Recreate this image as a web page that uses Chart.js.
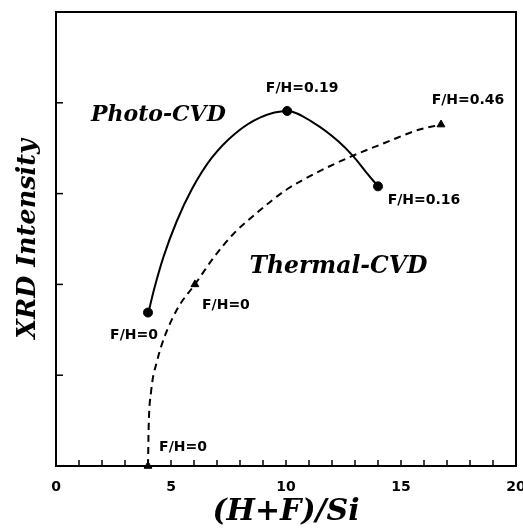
<!DOCTYPE html>
<html><head><meta charset="utf-8">
<script src="https://cdn.jsdelivr.net/npm/chart.js@4"></script>
<style>html,body{margin:0;padding:0;background:#fff;} canvas{display:block;}</style>
</head><body>
<canvas id="c" width="523" height="530"></canvas>
<script>
// ---- data ----
const xTickLabels = ['0', '5', '10', '15', '20'];

// Photo-CVD measured points
const photoX = [4.0, 10.05, 14.0];
const photoY = [1.69, 3.91, 3.08];
const photoLabels = ['F/H=0', 'F/H=0.19', 'F/H=0.16'];
// Photo-CVD drawn curve
const photoCurveX = [4.02, 4.26, 4.67, 5.24, 5.91, 6.76, 7.78, 8.89, 10.06, 11.2, 12.26, 12.93, 13.47, 14.0];
const photoCurveY = [1.69, 1.94, 2.30, 2.69, 3.05, 3.39, 3.66, 3.84, 3.91, 3.78, 3.58, 3.41, 3.24, 3.08];

// Thermal-CVD measured points
const thermalX = [4.0, 6.04, 16.74];
const thermalY = [0, 2.0, 3.76];
const thermalLabels = ['F/H=0', 'F/H=0', 'F/H=0.46'];
// Thermal-CVD drawn curve
const thermalCurveX = [4.0, 4.03, 4.13, 4.41, 4.73, 5.32, 6.04, 6.84, 7.69, 8.84, 10.0, 11.33, 12.84, 14.31, 15.73, 16.74];
const thermalCurveY = [0, 0.44, 0.81, 1.17, 1.43, 1.75, 2.0, 2.29, 2.55, 2.81, 3.04, 3.23, 3.41, 3.56, 3.70, 3.76];

const seriesNames = ['Photo-CVD', 'Thermal-CVD'];

// ---- styling / placement (not data) ----
const style = {
  pointLabelFont: 'bold 14px "DejaVu Sans"',
  photoLabelOffsets: [[-14, 23], [15, -23], [46, 14]],
  thermalLabelOffsets: [[35, -19], [31, 21], [27, -24]],
  nameFonts: ['italic bold 22px "DejaVu Serif"', 'italic bold 23.5px "DejaVu Serif"'],
  nameAnchors: [{x: 4.45, y: 3.86}, {x: 12.28, y: 2.19}]
};

const pts = (xs, ys) => xs.map((x, i) => ({x: x, y: ys[i]}));

const decor = {
  id: 'decor',
  afterDatasetsDraw(chart) {
    const {ctx, chartArea: a, scales: {x, y}} = chart;
    ctx.save();
    ctx.strokeStyle = '#000';
    ctx.lineWidth = 2;
    ctx.strokeRect(a.left, a.top, a.right - a.left, a.bottom - a.top);
    ctx.lineWidth = 1.5;
    x.ticks.forEach(t => {
      if (t.value <= x.min || t.value >= x.max) return;
      const px = x.getPixelForValue(t.value);
      ctx.beginPath(); ctx.moveTo(px, a.bottom); ctx.lineTo(px, a.bottom - 6); ctx.stroke();
    });
    y.ticks.forEach(t => {
      if (t.value <= y.min || t.value >= y.max) return;
      const py = y.getPixelForValue(t.value);
      ctx.beginPath(); ctx.moveTo(a.left, py); ctx.lineTo(a.left + 7, py); ctx.stroke();
    });
    ctx.fillStyle = '#000';
    ctx.textAlign = 'center';
    ctx.textBaseline = 'middle';
    ctx.font = style.pointLabelFont;
    const drawLabels = (xs, ys, labels, offs) => {
      labels.forEach((s, i) => {
        const px = x.getPixelForValue(xs[i]) + offs[i][0];
        const py = y.getPixelForValue(ys[i]) + offs[i][1];
        ctx.fillText(s, px, py);
      });
    };
    drawLabels(photoX, photoY, photoLabels, style.photoLabelOffsets);
    drawLabels(thermalX, thermalY, thermalLabels, style.thermalLabelOffsets);
    seriesNames.forEach((s, i) => {
      const an = style.nameAnchors[i];
      ctx.font = style.nameFonts[i];
      ctx.fillText(s, x.getPixelForValue(an.x), y.getPixelForValue(an.y));
    });
    ctx.restore();
  }
};

new Chart(document.getElementById('c'), {
  type: 'scatter',
  data: {
    datasets: [
      {label: 'Photo-CVD curve', data: pts(photoCurveX, photoCurveY), showLine: true,
       cubicInterpolationMode: 'monotone', borderColor: '#000', borderWidth: 2, pointRadius: 0, order: 3},
      {label: 'Thermal-CVD curve', data: pts(thermalCurveX, thermalCurveY), showLine: true,
       cubicInterpolationMode: 'monotone', borderColor: '#000', borderWidth: 2, borderDash: [7, 5],
       pointRadius: 0, order: 3},
      {label: seriesNames[0], data: pts(photoX, photoY), showLine: false, pointStyle: 'circle',
       pointRadius: 4.5, backgroundColor: '#000', borderColor: '#000', clip: false, order: 1},
      {label: seriesNames[1], data: pts(thermalX, thermalY), showLine: false, pointStyle: 'triangle',
       pointRadius: 4.5, backgroundColor: '#000', borderColor: '#000', clip: false, order: 1}
    ]
  },
  options: {
    responsive: false,
    animation: false,
    events: [],
    layout: {padding: {left: 0, top: 12, right: 7, bottom: 0}},
    plugins: {legend: {display: false}, tooltip: {enabled: false}},
    scales: {
      x: {
        type: 'linear', min: 0, max: 20,
        afterFit(s) { s.height = 64; s.paddingLeft = 0; s.paddingRight = 0; },
        grid: {display: true, drawOnChartArea: false, drawTicks: false},
        border: {display: false},
        ticks: {
          stepSize: 1, autoSkip: false, maxRotation: 0, padding: 13,
          color: '#000', font: {family: '"DejaVu Sans"', weight: 'bold', size: 14},
          callback: (v) => (v % 5 === 0 ? xTickLabels[v / 5] : '')
        },
        title: {display: true, text: '(H+F)/Si', color: '#000', padding: {top: -5, bottom: 0},
          font: {family: '"DejaVu Serif"', style: 'italic', weight: 'bold', size: 30}}
      },
      y: {
        type: 'linear', min: 0, max: 5,
        afterFit(s) { s.width = 56; s.paddingTop = 0; s.paddingBottom = 0; },
        grid: {display: true, drawOnChartArea: false, drawTicks: false},
        border: {display: false},
        ticks: {stepSize: 1, display: false},
        title: {display: true, text: 'XRD Intensity', color: '#000', padding: {top: 13, bottom: 0},
          font: {family: '"DejaVu Serif"', style: 'italic', weight: 'bold', size: 25.5}}
      }
    }
  },
  plugins: [decor]
});
</script>
</body></html>
